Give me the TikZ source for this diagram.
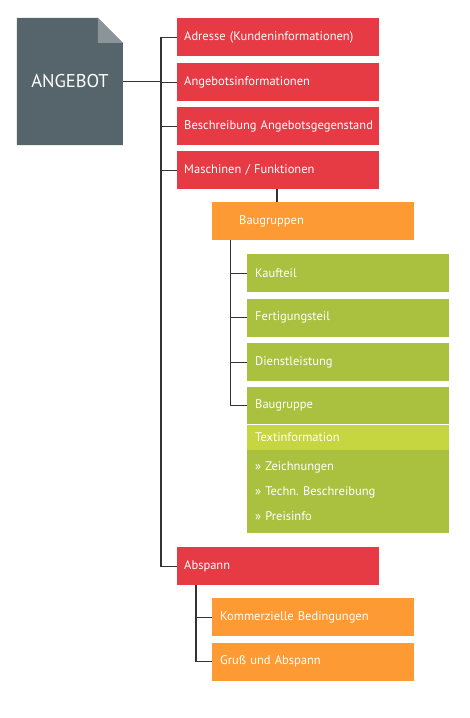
\documentclass[tikz,border=0pt]{standalone}
\usepackage{fontspec}
\setmainfont{PT Sans}
\definecolor{docgray}{HTML}{56646B}
\definecolor{foldgray}{HTML}{8B9599}
\definecolor{boxred}{HTML}{E63A45}
\definecolor{boxorange}{HTML}{FD9A33}
\definecolor{boxgreen}{HTML}{A9C13F}
\definecolor{bandgreen}{HTML}{C6D641}
\definecolor{linegray}{HTML}{333333}
\tikzset{
  box/.style={rectangle, anchor=north west, minimum width=202pt, minimum height=38pt,
    text width=202pt, align=left, inner ysep=0pt, inner xsep=0pt, text=white,
    font=\fontsize{12.5}{14}\selectfont},
  redbox/.style={box, fill=boxred},
  orangebox/.style={box, fill=boxorange},
  greenbox/.style={box, fill=boxgreen},
  conn/.style={draw=linegray, line width=1.3pt}
}
\begin{document}
\begin{tikzpicture}[x=1pt, y=-1pt]
	\useasboundingbox (0,0) rectangle (469,718);
	% document
	\node[minimum width=106pt, minimum height=127pt, inner sep=0pt] (doc) at (70,81.5) {};
	\fill[docgray] (doc.north west) -- ++(81,0) -- ++(25,25) |- (doc.south west) -- cycle;
	\fill[foldgray] (doc.north west) ++(81,0) -- ++(0,25) -- ++(25,0) -- cycle;
	\node[text=white, font=\fontsize{18.5}{22}\selectfont] (doctext) at (doc) {ANGEBOT};

	% main items
	\node[redbox] (adr) at (177,18) {\hspace*{7pt}Adresse (Kundeninformationen)};
	\node[redbox] (ang) at (177,63) {\hspace*{7pt}Angebotsinformationen};
	\node[redbox] (bes) at (177,107) {\hspace*{7pt}Beschreibung Angebotsgegenstand};
	\node[redbox] (mas) at (177,151) {\hspace*{7pt}Maschinen / Funktionen};
	\node[orangebox] (bgr) at (212,202) {\hspace*{27pt}Baugruppen};

	\node[greenbox] (kau) at (247,254) {\hspace*{8pt}Kaufteil};
	\node[greenbox] (fer) at (247,298.5) {\hspace*{8pt}Fertigungsteil};
	\node[greenbox] (die) at (247,343) {\hspace*{8pt}Dienstleistung};
	\node[greenbox, minimum height=37pt] (bau) at (247,387) {\hspace*{8pt}Baugruppe};
	\node[box, fill=bandgreen, minimum height=25pt] (txt) at (bau.south west) {\hspace*{8pt}Textinformation};
	\node[greenbox, minimum height=83pt] (lst) at (txt.south west)
	  {\hspace*{8pt}» Zeichnungen\\[11pt]\hspace*{8pt}» Techn.\ Beschreibung\\[11pt]\hspace*{8pt}» Preisinfo};

	\node[redbox] (abs) at (177,547) {\hspace*{7pt}Abspann};
	\node[orangebox] (kom) at (212,598) {\hspace*{8pt}Kommerzielle Bedingungen};
	\node[orangebox] (gru) at (212,642.5) {\hspace*{8pt}Gruß und Abspann};

	% connectors
	\coordinate (sp) at (161,0);
	\coordinate (ms) at (277,0);
	\draw[conn] (adr.west) -| (sp |- abs.west) -- (abs.west);
	\draw[conn] (doc.east) -- (doc.east -| sp);
	\draw[conn] (ang.west) -- (ang.west -| sp);
	\draw[conn] (bes.west) -- (bes.west -| sp);
	\draw[conn] (mas.west) -- (mas.west -| sp);
	\draw[conn] (ms |- mas.south) -- (ms |- bgr.north);
	\draw[conn] (bgr.south west) ++(18.5,0) coordinate (bs) |- (bau.west);
	\draw[conn] (bs |- kau.west) -- (kau.west);
	\draw[conn] (bs |- fer.west) -- (fer.west);
	\draw[conn] (bs |- die.west) -- (die.west);
	\draw[conn] (abs.south west) ++(19,0) coordinate (as) |- (gru.west);
	\draw[conn] (as |- kom.west) -- (kom.west);
\end{tikzpicture}
\end{document}
